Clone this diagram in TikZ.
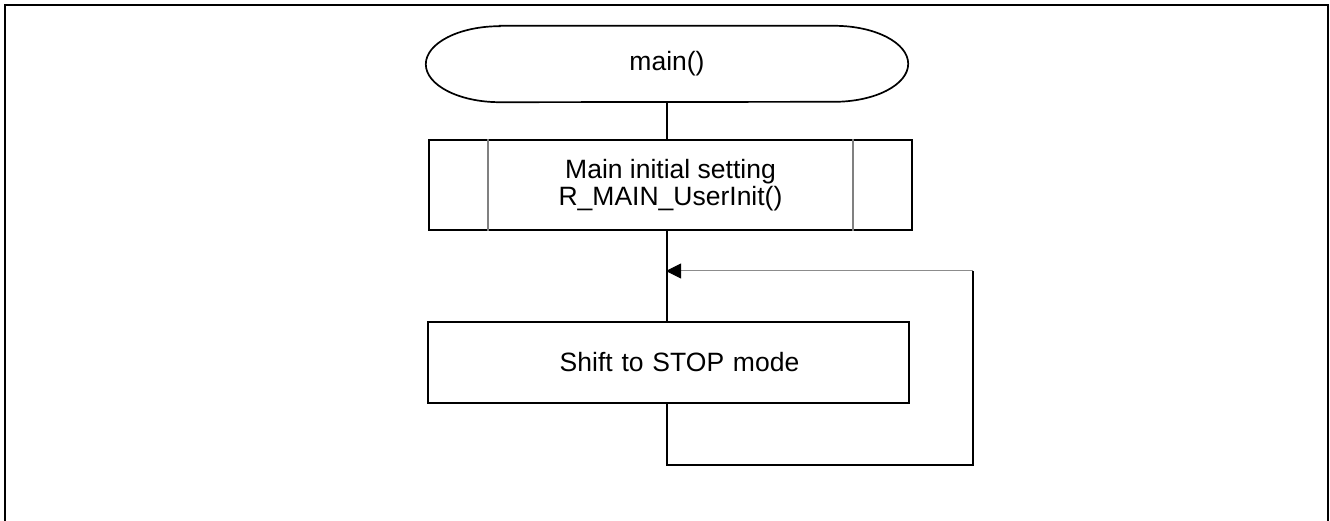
\documentclass[tikz,border=0pt]{standalone}
\usepackage{fontspec}
\setmainfont{Liberation Sans}
\usetikzlibrary{arrows.meta}
\begin{document}
\begin{tikzpicture}[x=1pt,y=-1pt,
  lbl/.style={font=\fontsize{26.5}{27.5}\selectfont, align=center, inner sep=0pt},
  procbox/.style={lbl, draw=black, line width=2pt},
  flow/.style={draw=black, line width=2pt},
  backflow/.style={draw=black, line width=2.2pt},
  returnline/.style={draw=black!45, line width=1pt,
    -{Triangle[length=15pt,width=15pt,color=black]}},
  sideline/.style={draw=black!50, line width=1.2pt}]
\useasboundingbox (0,0) rectangle (1330,521);

% open frame
\draw[line width=2.3pt] (5,521) -- (5,5) -- (1328,5) -- (1328,521);

% trunk line and loop corner
\coordinate (trunk) at (667,0);
\coordinate (loopbr) at (973,465);
\coordinate (join) at (666,271);

% terminal: main()
\node[lbl, minimum width=482pt, minimum height=76pt] (start) at (667,64) {main()};
\draw[line width=1.7pt]
  ([xshift=74pt]start.north west) -- ([xshift=-74pt]start.north east)
  arc[start angle=90, end angle=-90, x radius=74pt, y radius=38pt]
  -- ([xshift=74pt]start.south west)
  arc[start angle=270, end angle=90, x radius=74pt, y radius=38pt] -- cycle;

% predefined process
\node[procbox, minimum width=483pt, minimum height=90pt] (init) at (670.5,185)
  {Main initial setting\\R\_MAIN\_UserInit()};
\draw[sideline] ([xshift=60pt]init.north west) -- ([xshift=60pt]init.south west);
\draw[sideline] ([xshift=-60pt]init.north east) -- ([xshift=-60pt]init.south east);

% process
\node[procbox, minimum width=481pt, minimum height=81pt, text width=481pt,
  align=center] (run) at (668.5,362.5) {\hspace*{22pt}Shift to STOP mode};

% connectors
\draw[flow] (start.south -| trunk) -- (init.north -| trunk);
\draw[flow] (init.south -| trunk) -- (run.north -| trunk);
\draw[backflow] (run.south -| trunk) |- (loopbr) -- (loopbr |- join);
\draw[returnline] (loopbr |- join) -- (join);
\end{tikzpicture}
\end{document}
